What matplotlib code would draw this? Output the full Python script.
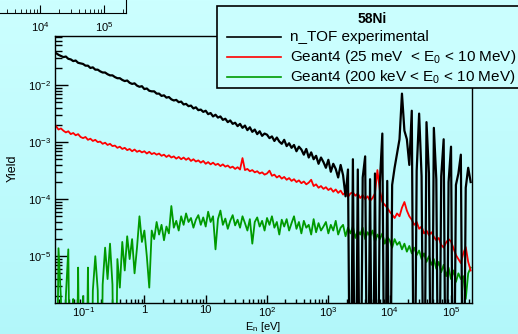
import numpy as np
import matplotlib
matplotlib.use("Agg")
import matplotlib.pyplot as plt
from matplotlib.patches import Rectangle
from matplotlib.lines import Line2D
from matplotlib.ticker import FixedLocator, FixedFormatter, LogLocator, NullFormatter

plt.rcParams['font.family'] = ['Liberation Sans', 'DejaVu Sans']
plt.rcParams['mathtext.fontset'] = 'custom'
plt.rcParams['mathtext.rm'] = 'Liberation Sans'
plt.rcParams['mathtext.it'] = 'Liberation Sans:italic'
plt.rcParams['mathtext.default'] = 'regular'

# histogram binning: log10(E) bin centres from -1.44 in steps of 0.04 (170 bins)
log_e_first = -1.44
log_e_step = 0.04

# log10 of yield per bin, -9 marks an empty bin
black_log = [
    -1.44, -1.47, -1.49, -1.51, -1.50, -1.54, -1.55, -1.58, -1.57, -1.61,
    -1.62, -1.63, -1.66, -1.66, -1.70, -1.69, -1.73, -1.73, -1.76, -1.78,
    -1.78, -1.81, -1.83, -1.83, -1.86, -1.88, -1.88, -1.91, -1.93, -1.92,
    -1.96, -1.98, -1.97, -2.01, -2.03, -2.02, -2.07, -2.06, -2.10, -2.11,
    -2.11, -2.15, -2.15, -2.19, -2.18, -2.22, -2.21, -2.25, -2.27, -2.26,
    -2.30, -2.29, -2.34, -2.33, -2.37, -2.36, -2.41, -2.39, -2.44, -2.43,
    -2.47, -2.45, -2.51, -2.49, -2.55, -2.52, -2.57, -2.55, -2.61, -2.59,
    -2.65, -2.62, -2.68, -2.66, -2.72, -2.68, -2.75, -2.71, -2.79, -2.74,
    -2.82, -2.78, -2.86, -2.81, -2.89, -2.85, -2.87, -2.93, -2.90, -2.98,
    -2.92, -2.99, -3.03, -2.96, -3.07, -3.02, -3.10, -3.05, -3.16, -3.08,
    -3.13, -3.22, -3.12, -3.27, -3.18, -3.30, -3.24, -3.38, -3.27, -3.35,
    -3.45, -3.31, -3.52, -3.38, -3.47, -3.62, -3.40, -3.58, -3.95, -3.48,
    -9, -3.30, -9, -3.48, -9, -3.62, -3.25, -9, -3.65, -9,
    -3.55, -9, -3.70, -2.85, -9, -3.68, -9, -3.75, -3.45, -3.20,
    -2.95, -2.15, -2.80, -2.95, -3.40, -2.45, -9, -3.50, -2.50, -3.60,
    -9, -2.65, -3.55, -9, -2.75, -3.65, -9, -3.60, -2.95, -9,
    -3.70, -3.08, -9, -3.75, -3.55, -3.22, -9, -3.80, -3.45, -3.70,
]

red_log = [
    -2.72, -2.78, -2.76, -2.80, -2.83, -2.81, -2.86, -2.84, -2.88, -2.86,
    -2.91, -2.93, -2.91, -2.96, -2.94, -2.98, -2.96, -3.00, -2.99, -3.03,
    -3.01, -3.05, -3.03, -3.07, -3.06, -3.10, -3.08, -3.12, -3.10, -3.14,
    -3.12, -3.16, -3.13, -3.17, -3.15, -3.18, -3.16, -3.20, -3.17, -3.21,
    -3.19, -3.22, -3.20, -3.24, -3.22, -3.26, -3.23, -3.27, -3.25, -3.29,
    -3.26, -3.30, -3.27, -3.31, -3.28, -3.33, -3.30, -3.34, -3.32, -3.36,
    -3.33, -3.38, -3.35, -3.39, -3.36, -3.40, -3.38, -3.42, -3.39, -3.43,
    -3.41, -3.45, -3.43, -3.47, -3.44, -3.48, -3.28, -3.49, -3.47, -3.51,
    -3.49, -3.53, -3.51, -3.55, -3.53, -3.57, -3.55, -3.50, -3.59, -3.57,
    -3.62, -3.59, -3.64, -3.61, -3.66, -3.63, -3.68, -3.65, -3.70, -3.67,
    -3.72, -3.69, -3.74, -3.71, -3.66, -3.77, -3.74, -3.80, -3.77, -3.82,
    -3.79, -3.84, -3.81, -3.87, -3.83, -3.89, -3.85, -3.92, -3.88, -3.96,
    -3.90, -3.88, -3.94, -3.90, -3.98, -3.93, -4.00, -3.95, -4.03, -3.98,
    -3.90, -3.49, -3.85, -4.05, -4.10, -4.15, -4.22, -4.27, -4.33, -4.25,
    -4.30, -4.15, -4.05, -4.20, -4.30, -4.36, -4.45, -4.40, -4.52, -4.48,
    -4.60, -4.55, -4.63, -4.58, -4.66, -4.72, -4.68, -4.80, -4.85, -4.76,
    -4.70, -4.74, -4.86, -4.98, -5.05, -5.12, -4.95, -4.84, -5.10, -5.25,
]

green_log = [
    -9, -4.86, -5.75, -9, -5.70, -4.88, -9, -5.75, -9, -5.20,
    -9, -5.70, -9, -5.20, -9, -5.60, -5.00, -5.60, -9, -5.50,
    -4.85, -5.40, -4.78, -5.50, -9, -5.05, -5.55, -4.75, -5.25, -4.65,
    -5.05, -4.70, -5.30, -4.85, -4.30, -4.75, -4.55, -5.00, -5.55, -4.55,
    -4.70, -4.40, -4.62, -4.45, -4.72, -4.48, -4.60, -4.12, -4.50, -4.38,
    -4.55, -4.30, -4.45, -4.25, -4.40, -4.33, -4.50, -4.36, -4.28, -4.45,
    -4.32, -4.48, -4.22, -4.40, -4.30, -4.88, -4.35, -4.20, -4.45, -4.34,
    -4.52, -4.38, -4.28, -4.46, -4.36, -4.50, -4.30, -4.42, -4.55, -4.35,
    -4.78, -4.40, -4.32, -4.48, -4.38, -4.55, -4.33, -4.45, -4.30, -4.50,
    -4.40, -4.62, -4.36, -4.48, -4.35, -4.55, -4.42, -4.30, -4.52, -4.40,
    -4.60, -4.38, -4.50, -4.45, -4.62, -4.35, -4.58, -4.42, -4.55, -4.48,
    -4.40, -4.60, -4.45, -4.55, -4.38, -4.62, -4.50, -4.45, -4.65, -4.50,
    -4.60, -4.48, -4.68, -4.55, -4.62, -4.50, -4.70, -4.58, -4.65, -4.55,
    -4.75, -4.62, -4.70, -4.60, -4.78, -4.66, -4.72, -4.85, -4.70, -4.80,
    -4.75, -4.88, -4.78, -4.92, -4.82, -4.95, -4.85, -4.98, -4.90, -5.05,
    -4.95, -5.10, -5.00, -5.15, -5.05, -5.22, -5.10, -5.28, -5.15, -5.35,
    -5.20, -5.40, -5.25, -5.45, -5.30, -5.40, -5.35, -5.75, -5.30, -5.20,
]

x_ticks = [1e-1, 1, 10, 1e2, 1e3, 1e4, 1e5]
x_tick_labels = ['10$^{-1}$', '1', '10', '10$^{2}$', '10$^{3}$', '10$^{4}$', '10$^{5}$']
y_ticks = [1e-5, 1e-4, 1e-3, 1e-2]
y_tick_labels = ['10$^{-5}$', '10$^{-4}$', '10$^{-3}$', '10$^{-2}$']
frag_ticks = [1e4, 1e5]
frag_tick_labels = ['10$^{4}$', '10$^{5}$']

legend_title = '58Ni'
legend_labels = ['n_TOF experimental',
                 'Geant4 (25 meV  < E$_{0}$ < 10 MeV)',
                 'Geant4 (200 keV < E$_{0}$ < 10 MeV)']
colors = ['black', '#ff0000', '#009a00']

W, H = 518, 334
fig = plt.figure(figsize=(W / 100, H / 100), dpi=100)

def fx(x):
    return x / W

def fy(y):
    return 1 - y / H

# background gradient
bg = fig.add_axes([0, 0, 1, 1], zorder=-10)
top_c = np.array([0.80, 1.0, 1.0])
bot_c = np.array([0.70, 0.97, 0.98])
t = np.linspace(0, 1, 256)[:, None]
grad = (top_c * (1 - t) + bot_c * t)[:, None, :]
bg.imshow(grad, aspect='auto', extent=[0, 1, 0, 1])
bg.axis('off')

# fragment of another pad in the top-left corner
fr = fig.add_axes([-0.5, fy(13), fx(126) + 0.5, 0.3])
fr.set_facecolor('none')
fr.set_xscale('log')
fr.set_xlim(10 ** -0.672, 10 ** 5.344)
fr.set_ylim(0, 1)
fr.spines['top'].set_visible(False)
fr.spines['left'].set_visible(False)
fr.xaxis.set_major_locator(FixedLocator(frag_ticks))
fr.xaxis.set_major_formatter(FixedFormatter(frag_tick_labels))
fr.xaxis.set_minor_locator(LogLocator(base=10, subs=np.arange(2, 10)))
fr.xaxis.set_minor_formatter(NullFormatter())
fr.set_yticks([])
fr.tick_params(axis='x', which='both', direction='in', labelsize=8, pad=5)
fr.tick_params(axis='x', which='major', length=5.8)
fr.tick_params(axis='x', which='minor', length=2.9)

# main pad
ax = fig.add_axes([fx(55), fy(303), fx(472) - fx(55), fy(36) - fy(303)])
ax.set_facecolor('none')
centres = 10 ** (log_e_first + log_e_step * np.arange(len(black_log)))
for vals, c, lw in [(green_log, colors[2], 1.3), (red_log, colors[1], 1.3), (black_log, colors[0], 1.6)]:
    ax.plot(centres, 10 ** np.array(vals), color=c, lw=lw)

ax.set_xscale('log')
ax.set_yscale('log')
ax.set_xlim(10 ** -1.457, 10 ** 5.342)
ax.set_ylim(10 ** -5.82, 10 ** -1.14)
ax.xaxis.set_major_locator(FixedLocator(x_ticks))
ax.xaxis.set_major_formatter(FixedFormatter(x_tick_labels))
ax.xaxis.set_minor_locator(LogLocator(base=10, subs=np.arange(2, 10), numticks=20))
ax.xaxis.set_minor_formatter(NullFormatter())
ax.yaxis.set_major_locator(FixedLocator(y_ticks))
ax.yaxis.set_major_formatter(FixedFormatter(y_tick_labels))
ax.yaxis.set_minor_locator(LogLocator(base=10, subs=np.arange(2, 10), numticks=20))
ax.yaxis.set_minor_formatter(NullFormatter())
ax.tick_params(which='both', direction='in', top=False, right=False, labelsize=8, width=1)
ax.tick_params(axis='x', which='major', length=5.8, pad=1.5)
ax.tick_params(axis='x', which='minor', length=2.9)
ax.tick_params(axis='y', which='major', length=9.4, pad=3)
ax.tick_params(axis='y', which='minor', length=5)
for s in ax.spines.values():
    s.set_linewidth(1.0)

fig.text(fx(263), fy(330), 'E$_{n}$ [eV]', ha='center', va='baseline', fontsize=8)
fig.text(fx(13), fy(168), 'Yield', ha='center', va='center', rotation=90, fontsize=9)

# legend box
fig.add_artist(Rectangle((fx(217), fy(88)), fx(310), fy(6) - fy(88), transform=fig.transFigure,
                         facecolor='#cafefe', edgecolor='black', lw=1.2, zorder=5))
fig.text(fx(372), fy(19), legend_title, ha='center', va='center', fontsize=10,
         fontweight='bold', zorder=6)
for k, (lab, c) in enumerate(zip(legend_labels, colors)):
    ly = 37 + 20 * k
    fig.add_artist(Line2D([fx(227), fx(281)], [fy(ly), fy(ly)], transform=fig.transFigure,
                          color=c, lw=1.2, zorder=6))
    fig.text(fx(290), fy(ly + 4), lab, ha='left', va='baseline', fontsize=11, zorder=6)

fig.savefig('out.png', dpi=100)
